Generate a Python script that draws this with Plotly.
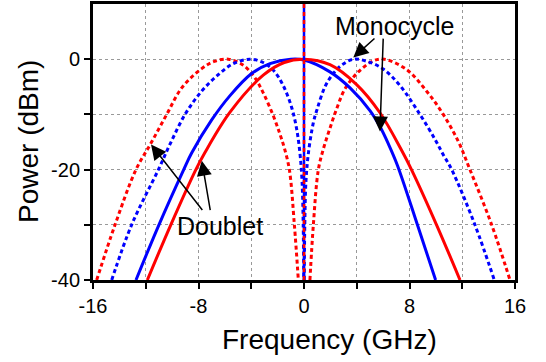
import plotly.graph_objects as go

# Frequency (GHz) / Power (dBm)
doublet_dot_f = [-15.72, -14.33, -12.74, -11.6, -10.41, -9.27, -7.76, -6.8, -5.74, -4.6, -3.72, -3.09,
                 -2.32, -1.82, -1.5, -1.11, -0.73, -0.43, None,
                 0.45, 0.71, 1.09, 1.5, 1.97, 2.48, 3.11, 4.12, 5.26, 6.1, 7.79, 9.3, 10.56, 11.7,
                 12.55, 14.23, 15.62]
doublet_dot_p = [-40, -30, -20, -15.2, -10, -5.2, -1.7, -0.4, 0, -1.1, -3.4, -6.1,
                 -10.3, -13.6, -16.0, -20, -30, -40, None,
                 -40, -30, -20, -16.0, -12.5, -8.95, -5.37, -2.3, -0.3, 0, -1.9, -5.8, -10, -14.9,
                 -19.8, -30, -40]

mono_dot_f = [-14.58, -13.07, -11.04, -10.16, -9.02, -7.76, -6.5, -5.36, -4.1, -3.1, -2.32, -1.57,
              -0.94, -0.56, -0.30, -0.15, -0.06, -0.02, None,
              0.02, 0.06, 0.15, 0.35, 0.71, 1.01, 1.59, 2.22, 2.9, 3.74, 4.8, 6.01, 7.28, 8.79, 9.93,
              10.56, 11.2, 12.96, 14.43]
mono_dot_p = [-40, -30, -20, -15.4, -10, -5.8, -2.8, -0.8, 0, -0.6, -2.0, -4.8,
              -8.7, -12.6, -17.2, -22, -30, -40, None,
              -40, -30, -22, -16.7, -11.5, -8.95, -5.0, -2.6, -1.0, 0, -0.4, -1.79, -4.78, -10, -14.5,
              -17.3, -20, -30, -40]

doublet_f = [-11.88, -10.1, -8.2, -7.51, -5.61, -3.09, -1.5, 0, 1.97, 3.99, 5.76, 7.4, 8.15, 10.05, 11.83]
doublet_p = [-40, -30, -20, -16.9, -9.6, -2.9, -0.6, 0, -1.0, -4.6, -9.7, -16.5, -20, -30, -40]

mono_f = [-12.74, -11.0, -9.12, -8.52, -7.0, -5.61, -3.97, -2.58, -1.0, 0, 1.97, 3.49, 5.0, 5.76, 6.39,
          7.08, 8.6, 9.98]
mono_p = [-40, -30, -20, -17.0, -11.0, -6.6, -2.6, -0.8, 0, -0.15, -2.3, -5.2, -9.3, -12.2, -15.3,
          -19.2, -30, -40]

center_f = [0, 0]
center_p = [-40, 10]

x_ticks = [-16, -12, -8, -4, 0, 4, 8, 12, 16]
x_tick_text = ["-16", "", "-8", "", "0", "", "8", "", "16"]
y_ticks = [-40, -30, -20, -10, 0]
y_tick_text = ["-40", "", "-20", "", "0"]

BLUE = "rgb(0,0,255)"
RED = "rgb(255,0,0)"
DOT = "4px,3px"
FONT = "Arial, Liberation Sans, sans-serif"

fig = go.Figure()
fig.add_trace(go.Scatter(x=doublet_dot_f, y=doublet_dot_p, mode="lines",
                         line=dict(color=RED, width=3, dash=DOT, shape="spline", smoothing=1.0)))
fig.add_trace(go.Scatter(x=mono_dot_f, y=mono_dot_p, mode="lines",
                         line=dict(color=BLUE, width=3, dash=DOT, shape="spline", smoothing=1.0)))
fig.add_trace(go.Scatter(x=mono_f, y=mono_p, mode="lines",
                         line=dict(color=BLUE, width=3, shape="spline", smoothing=1.0)))
fig.add_trace(go.Scatter(x=doublet_f, y=doublet_p, mode="lines",
                         line=dict(color=RED, width=3, shape="spline", smoothing=1.0)))
fig.add_trace(go.Scatter(x=center_f, y=center_p, mode="lines",
                         line=dict(color=BLUE, width=2.5)))
fig.add_trace(go.Scatter(x=center_f, y=center_p, mode="lines",
                         line=dict(color=RED, width=2.5, dash="4px,4px")))

axis_common = dict(showline=True, linewidth=3, linecolor="black", mirror=True,
                   ticks="outside", ticklen=6, tickwidth=2, tickcolor="black",
                   showgrid=True, gridcolor="#999999", gridwidth=1, griddash="dot",
                   zeroline=False, tickfont=dict(size=20, color="black", family=FONT))

fig.update_xaxes(range=[-16, 16], tickmode="array", tickvals=x_ticks, ticktext=x_tick_text, **axis_common)
fig.update_yaxes(range=[-40, 10], tickmode="array", tickvals=y_ticks, ticktext=y_tick_text, **axis_common)

arrow = dict(showarrow=True, arrowhead=2, arrowsize=2.0, arrowwidth=1.5, arrowcolor="black",
             axref="x", ayref="y", text="")
annotations = [
    dict(x=6.9, y=6.0, xref="x", yref="y", text="Monocycle", showarrow=False,
         font=dict(size=25, color="black", family=FONT)),
    dict(x=-6.4, y=-30.2, xref="x", yref="y", text="Doublet", showarrow=False,
         font=dict(size=25, color="black", family=FONT)),
    dict(x=3.74, y=0.3, ax=5.46, ay=4.0, **arrow),
    dict(x=5.76, y=-13.1, ax=6.01, ay=4.0, **arrow),
    dict(x=-11.6, y=-15.45, ax=-7.62, ay=-27.6, **arrow),
    dict(x=-7.75, y=-18.4, ax=-7.09, ay=-27.6, **arrow),
    dict(x=0.5616, y=-0.215, xref="paper", yref="paper", text="Frequency (GHz)", showarrow=False,
         xanchor="center", yanchor="middle", font=dict(size=28, color="black", family=FONT)),
    dict(x=-0.154, y=0.5, xref="paper", yref="paper", text="Power (dBm)", showarrow=False,
         textangle=-90, xanchor="center", yanchor="middle",
         font=dict(size=28, color="black", family=FONT)),
]

fig.update_layout(width=546, height=362, margin=dict(l=93, r=31, t=1, b=82),
                  paper_bgcolor="white", plot_bgcolor="white", showlegend=False,
                  annotations=annotations, font=dict(family=FONT, color="black"))

fig.write_html("out.html")
